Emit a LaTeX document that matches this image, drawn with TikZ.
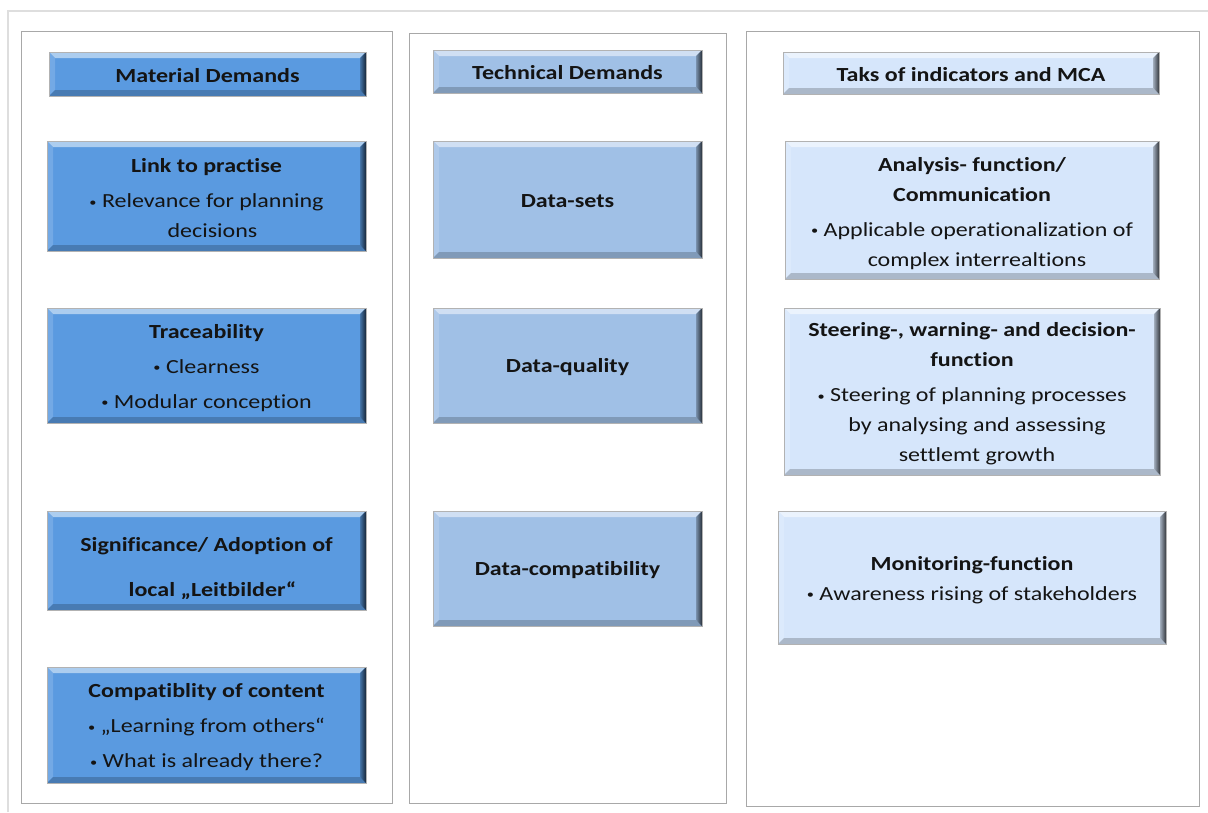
\documentclass[tikz,border=0pt]{standalone}
\usepackage{fontspec}
\setmainfont{Carlito}[FakeStretch=1.2, RawFeature={-liga;-clig;-calt;-dlig}]
\usetikzlibrary{calc}
\definecolor{cA}{HTML}{5A9AE0}
\definecolor{cB}{HTML}{A0C0E6}
\definecolor{cC}{HTML}{D6E6FB}
\definecolor{frameg}{HTML}{DEDEDE}
\definecolor{panelg}{HTML}{A8A8A8}
\definecolor{txt}{HTML}{141414}
\newcommand\bul{\raisebox{1.5pt}{\fontsize{12}{12}\selectfont •}}
\tikzset{
  panel/.style={draw=panelg, line width=1pt, fill=white, inner sep=0pt, outer sep=0pt, anchor=north west},
  bx/.style={inner sep=0pt, outer sep=0pt},
  lbl/.style={font=\fontsize{20}{30}\selectfont, align=center, text=txt, inner sep=0pt},
}
\newcommand\bvbox[8][-2.5pt]{%
  \node[bx, fill=#7, minimum width={#5-#3}, minimum height={#6-#4}, anchor=north west] (#2) at (#3,#4) {};
  \fill[#7!50!white] (#2.north west) -- (#2.north east) -- ($(#2.north east)+(-6,6)$) -- ($(#2.north west)+(6,6)$) -- cycle;
  \fill[#7!85!white] (#2.north west) -- ($(#2.north west)+(6,6)$) -- ($(#2.south west)+(6,-6)$) -- (#2.south west) -- cycle;
  \fill[#7!80!black] (#2.south west) -- ($(#2.south west)+(6,-6)$) -- ($(#2.south east)+(-6,-6)$) -- (#2.south east) -- cycle;
  \shade[left color=#7!75!black, right color=#7!25!black] (#2.north east) -- ($(#2.north east)+(-6,6)$) -- ($(#2.south east)+(-6,-6)$) -- (#2.south east) -- cycle;
  \draw[gray!60, line width=0.8pt] (#2.north west) rectangle (#2.south east);
  \node[lbl, yshift=#1] (#2-t) at (#2.center) {#8};
}
\begin{document}
\begin{tikzpicture}[x=1pt, y=-1pt]
\useasboundingbox (0,0) rectangle (1208,812);
\fill[white] (0,0) rectangle (1208,812);
% outer frame
\draw[frameg, line width=2pt] (8,812) -- (8,11) -- (1208,11);
% panels
\node[panel, minimum width=371pt, minimum height=772pt] (p1) at (21,31) {};
\node[panel, minimum width=317pt, minimum height=770pt] (p2) at (409,33) {};
\node[panel, minimum width=453pt, minimum height=775pt] (p3) at (746,31) {};
% left column
\bvbox[-1.5pt]{h1}{49}{52}{366}{96}{cA}{\bfseries Material Demands}
\bvbox{a1}{47}{141}{366}{251}{cA}{{\bfseries Link to practise}\\[5pt] \bul\ Relevance for planning\\ \hspace*{12pt}decisions}
\bvbox{a2}{47}{308}{366}{423}{cA}{{\bfseries Traceability}\\[5pt] \bul\ Clearness\\[5pt] \bul\ Modular conception}
\bvbox[-8.5pt]{a3}{47}{511}{366}{610}{cA}{\bfseries Significance/ Adoption of\\[15pt] \hspace*{12pt}\bfseries local „Leitbilder“}
\bvbox{a4}{47}{667}{366}{783}{cA}{{\bfseries Compatiblity of content}\\[5pt] \bul\ „Learning from others“\\[5pt] \bul\ What is already there?}
% middle column
\bvbox[-1.5pt]{h2}{433}{50}{702}{93}{cB}{\bfseries Technical Demands}
\bvbox[-1.5pt]{b1}{433}{141}{702}{258}{cB}{\bfseries Data-sets}
\bvbox[-2pt]{b2}{433}{308}{702}{423}{cB}{\bfseries Data-quality}
\bvbox[-2pt]{b3}{433}{511}{702}{626}{cB}{\bfseries Data-compatibility}
% right column
\bvbox[-1.5pt]{h3}{783}{52}{1159}{94}{cC}{\bfseries Taks of indicators and MCA}
\bvbox[-3.5pt]{c1}{785}{141}{1159}{279}{cC}{{\bfseries Analysis- function/}\\ {\bfseries Communication}\\[5pt] \bul\ Applicable operationalization of\\ \hspace*{10pt}complex interrealtions}
\bvbox{c2}{784}{308}{1160}{475}{cC}{{\bfseries Steering-, warning- and decision-}\\ {\bfseries function}\\[5pt] \bul\ Steering of planning processes\\ \hspace*{10pt}by analysing and assessing\\ \hspace*{10pt}settlemt growth}
\bvbox{c3}{778}{511}{1166}{644}{cC}{{\bfseries Monitoring-function}\\ \bul\ Awareness rising of stakeholders}
\end{tikzpicture}
\end{document}
